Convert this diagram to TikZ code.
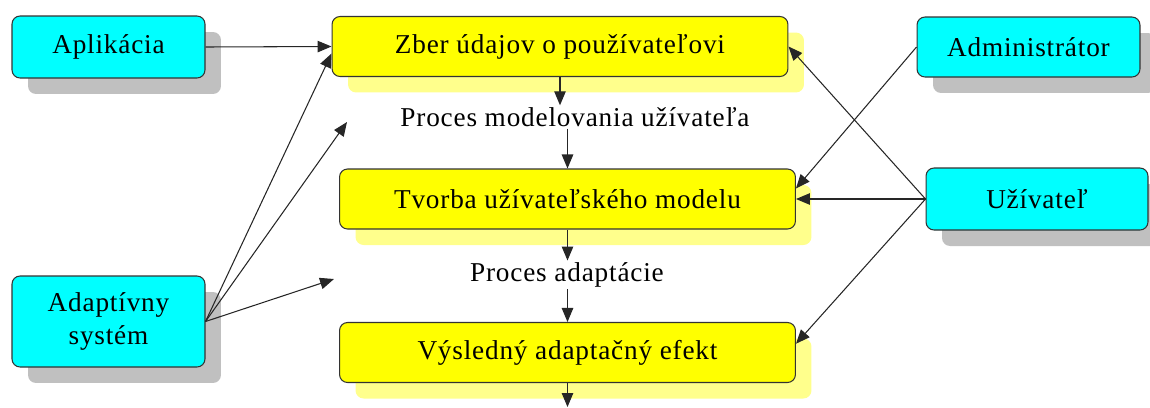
\documentclass[tikz,border=0pt]{standalone}
\usepackage{fontspec}
\setmainfont[LetterSpace=3]{Liberation Serif}
\usetikzlibrary{arrows.meta,shadows}

\definecolor{actorcyan}{RGB}{0,255,255}
\definecolor{phaseyellow}{RGB}{255,255,0}
\definecolor{shadeyellow}{RGB}{255,255,140}
\definecolor{shadegray}{RGB}{192,192,192}

\begin{document}
\begin{tikzpicture}[x=0.02cm, y=-0.02cm,
   box/.style={draw=black!80, line width=0.6pt, rounded corners=0.16cm,
      align=center, inner sep=0pt, font=\fontsize{15.5}{19}\selectfont},
   actor/.style={box, fill=actorcyan, drop shadow={shadow xshift=0.32cm,
      shadow yshift=-0.32cm, fill=shadegray, opacity=1}},
   phase/.style={box, fill=phaseyellow, minimum width=9.12cm, minimum height=1.2cm,
      drop shadow={shadow xshift=0.32cm, shadow yshift=-0.32cm, fill=shadeyellow, opacity=1}},
   proctext/.style={inner sep=1pt, font=\fontsize{15.5}{19}\selectfont},
   link/.style={-{Triangle[length=0.28cm, width=0.23cm]}, line width=0.6pt, black!85}]

   \useasboundingbox (0,0) rectangle (1150,407);

   % phases
   \node[phase] (zber)   at (560,46.5)  {Zber údajov o používateľovi};
   \node[phase] (tvorba) at (567.5,199) {Tvorba užívateľského modelu};
   \node[phase] (vysl)   at (567.5,352.5) {Výsledný adaptačný efekt};

   \node[proctext] (modproc) at (575,117) {Proces modelovania užívateľa};
   \node[proctext] (adproc)  at (567,275) {Proces adaptácie};

   % actors
   \node[actor, minimum width=3.86cm, minimum height=1.24cm] (apl)   at (108.5,47)   {Aplikácia};
   \node[actor, minimum width=3.86cm, minimum height=1.82cm] (adapt) at (108.5,321.5) {Adaptívny\\systém};
   \node[actor, minimum width=4.46cm, minimum height=1.2cm]  (admin) at (1028.5,47)  {Administrátor};
   \node[actor, minimum width=4.44cm, minimum height=1.24cm] (uziv)  at (1037,199)   {Užívateľ};

   \coordinate (modtip) at (347,122);
   \coordinate (adtip)  at (334,279);
   \coordinate (outtip) at (567.5,407);

   % flow in the middle
   \draw[link] (zber.south) -- (zber.south |- modproc.north);
   \draw[link] (tvorba.north |- modproc.south) -- (tvorba.north);
   \draw[link] (tvorba.south) -- (tvorba.south |- adproc.north);
   \draw[link] (adproc.south -| vysl.north) -- (vysl.north);
   \draw[link] (vysl.south) -- (outtip);

   % left side
   \draw[link] (apl.east) -- (zber.west);
   \draw[link] (adapt.east) -- ([yshift=-4pt]zber.west);
   \draw[link] (adapt.east) -- (modtip);
   \draw[link] (adapt.east) -- (adtip);

   % right side
   \draw[link] (uziv.west) -- (zber.east);
   \draw[link] (uziv.west) -- (tvorba.east);
   \draw[link] (uziv.west) -- ([yshift=5pt]vysl.east);
   \draw[link] (admin.west) -- ([yshift=6pt]tvorba.east);

\end{tikzpicture}
\end{document}
